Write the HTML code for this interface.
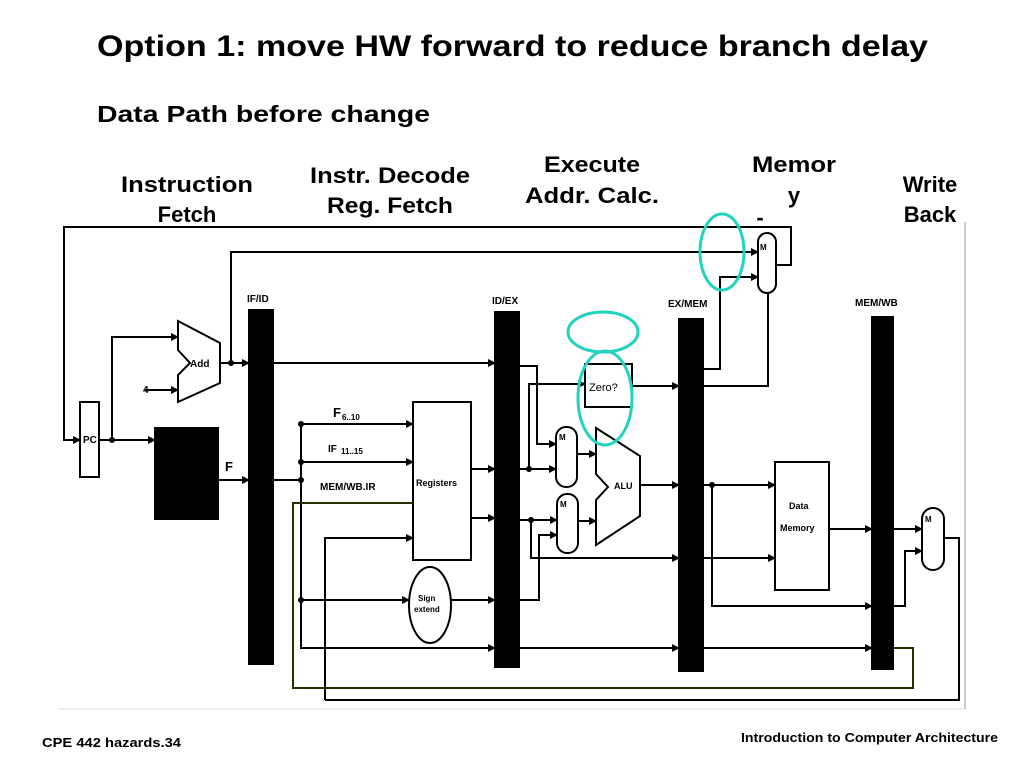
<!DOCTYPE html>
<html><head><meta charset="utf-8"><style>
body{margin:0;width:1024px;height:768px;background:#fff;overflow:hidden;font-family:"Liberation Sans",Arial,sans-serif}
</style></head><body>
<svg width="1024" height="768" xmlns="http://www.w3.org/2000/svg" font-family="Liberation Sans, Arial, sans-serif">
<defs><marker id="a" markerWidth="8" markerHeight="8" refX="7" refY="4" orient="auto" markerUnits="userSpaceOnUse"><path d="M0,0 L8,4 L0,8z" fill="#000"/></marker></defs>
<text x="97" y="56" font-size="30" font-weight="bold" textLength="831" lengthAdjust="spacingAndGlyphs">Option 1: move HW forward to reduce branch delay</text>
<text x="97" y="122" font-size="23" font-weight="bold" textLength="333" lengthAdjust="spacingAndGlyphs">Data Path before change</text>
<g font-size="22" font-weight="bold" text-anchor="middle">
<text x="187" y="192" textLength="132" lengthAdjust="spacingAndGlyphs">Instruction</text><text x="187" y="222">Fetch</text>
<text x="390" y="183" textLength="160" lengthAdjust="spacingAndGlyphs">Instr. Decode</text><text x="390" y="213" textLength="126" lengthAdjust="spacingAndGlyphs">Reg. Fetch</text>
<text x="592" y="172" textLength="96" lengthAdjust="spacingAndGlyphs">Execute</text><text x="592" y="203" textLength="134" lengthAdjust="spacingAndGlyphs">Addr. Calc.</text>
<text x="794" y="172" textLength="84" lengthAdjust="spacingAndGlyphs">Memor</text><text x="794" y="203">y</text><text x="760" y="225">-</text>
<text x="930" y="192">Write</text><text x="930" y="222">Back</text>
</g>
<rect x="58" y="223" width="907" height="486" fill="#fff"/>
<line x1="965" y1="222" x2="965" y2="709" stroke="#ccc" stroke-width="2"/>
<line x1="58" y1="709" x2="965" y2="709" stroke="#ddd" stroke-width="1"/>
<g stroke="#000" stroke-width="2" fill="none">
<rect x="249" y="310" width="24" height="354" fill="#000"/>
<rect x="495" y="312" width="24" height="355" fill="#000"/>
<rect x="679" y="319" width="24" height="352" fill="#000"/>
<rect x="872" y="317" width="21" height="352" fill="#000"/>
<rect x="155" y="428" width="63" height="91" fill="#000"/>
<rect x="80" y="402" width="19" height="75" fill="#fff"/>
<rect x="413" y="402" width="58" height="158" fill="#fff"/>
<rect x="585" y="364" width="47" height="43" fill="#fff"/>
<rect x="775" y="462" width="54" height="128" fill="#fff"/>
<ellipse cx="430" cy="605" rx="21" ry="38" fill="#fff"/>
<path d="M178,321 L220,343 L220,383 L178,402 L178,375 L190,363 L178,350Z" fill="#fff"/>
<path d="M596,428 L640,456 L640,516 L596,545 L596,500 L608,487 L596,474Z" fill="#fff"/>
<rect x="758" y="233" width="18" height="60" rx="9" fill="#fff"/>
<rect x="556" y="427" width="21" height="60" rx="10" fill="#fff"/>
<rect x="557" y="494" width="21" height="59" rx="10" fill="#fff"/>
<rect x="922" y="508" width="22" height="62" rx="11" fill="#fff"/>
<polyline points="776,265 791,265 791,227 64,227 64,440 80,440" marker-end="url(#a)"/>
<polyline points="99,440 155,440" marker-end="url(#a)"/>
<polyline points="112,440 112,337 178,337" marker-end="url(#a)"/>
<polyline points="145,390 178,390" marker-end="url(#a)"/>
<polyline points="220,363 249,363" marker-end="url(#a)"/>
<polyline points="231,363 231,252 758,252" marker-end="url(#a)"/>
<polyline points="218,480 249,480" marker-end="url(#a)"/>
<polyline points="273,363 495,363" marker-end="url(#a)"/>
<polyline points="273,480 301,480"/>
<polyline points="301,424 413,424" marker-end="url(#a)"/>
<polyline points="301,462 413,462" marker-end="url(#a)"/>
<polyline points="301,424 301,648 495,648" marker-end="url(#a)"/>
<polyline points="301,600 409,600" marker-end="url(#a)"/>
<polyline points="451,600 495,600" marker-end="url(#a)"/>
<polyline points="325,700 325,538 413,538" marker-end="url(#a)"/>
<polyline points="325,700 959,700 959,538 944,538"/>
<polyline points="471,469 495,469" marker-end="url(#a)"/>
<polyline points="471,518 495,518" marker-end="url(#a)"/>
<polyline points="519,366 537,366 537,444 556,444" marker-end="url(#a)"/>
<polyline points="519,469 556,469" marker-end="url(#a)"/>
<polyline points="529,469 529,384 585,384" marker-end="url(#a)"/>
<polyline points="519,520 557,520" marker-end="url(#a)"/>
<polyline points="519,600 539,600 539,535 557,535" marker-end="url(#a)"/>
<polyline points="531,520 531,558 679,558" marker-end="url(#a)"/>
<polyline points="577,454 596,454" marker-end="url(#a)"/>
<polyline points="578,521 596,521" marker-end="url(#a)"/>
<polyline points="632,386 679,386" marker-end="url(#a)"/>
<polyline points="640,485 679,485" marker-end="url(#a)"/>
<polyline points="519,648 679,648" marker-end="url(#a)"/>
<polyline points="703,648 872,648" marker-end="url(#a)"/>
<polyline points="703,369 720,369 720,277 758,277" marker-end="url(#a)"/>
<polyline points="703,386 768,386 768,293"/>
<polyline points="703,485 775,485" marker-end="url(#a)"/>
<polyline points="703,558 775,558" marker-end="url(#a)"/>
<polyline points="712,485 712,606 872,606" marker-end="url(#a)"/>
<polyline points="829,529 872,529" marker-end="url(#a)"/>
<polyline points="893,529 922,529" marker-end="url(#a)"/>
<polyline points="893,606 905,606 905,551 922,551" marker-end="url(#a)"/>
</g>
<polyline points="893,648 913,648 913,688 293,688 293,503 413,503" fill="none" stroke="#223300" stroke-width="2"/>
<g fill="#000">
<circle cx="112" cy="440" r="3"/><circle cx="231" cy="363" r="3"/><circle cx="301" cy="424" r="3"/><circle cx="301" cy="462" r="3"/><circle cx="301" cy="480" r="3"/><circle cx="301" cy="600" r="3"/><circle cx="529" cy="469" r="3"/><circle cx="531" cy="520" r="3"/><circle cx="712" cy="485" r="3"/>
</g>
<g font-size="10" font-weight="bold">
<text x="247" y="302">IF/ID</text><text x="492" y="304">ID/EX</text><text x="668" y="307">EX/MEM</text><text x="855" y="306">MEM/WB</text>
<text x="83" y="443">PC</text><text x="190" y="367">Add</text><text x="143" y="393">4</text>
<text x="225" y="471" font-size="13">F</text>
<text x="333" y="417" font-size="13">F</text><text x="342" y="420" font-size="8">6..10</text>
<text x="328" y="452">IF</text><text x="341" y="454" font-size="8">11..15</text>
<text x="320" y="490">MEM/WB.IR</text>
<text x="416" y="486" font-size="9">Registers</text>
<text x="418" y="601" font-size="8">Sign</text><text x="414" y="612" font-size="8">extend</text>
<text x="589" y="391" font-size="11" font-weight="normal">Zero?</text>
<text x="614" y="489" font-size="9">ALU</text>
<text x="789" y="509" font-size="9">Data</text><text x="780" y="531" font-size="9">Memory</text>
<text x="760" y="250" font-size="8">M</text><text x="559" y="440" font-size="8">M</text><text x="560" y="507" font-size="8">M</text><text x="925" y="522" font-size="8">M</text>
</g>
<g fill="none" stroke="#22d3c0" stroke-width="3">
<ellipse cx="722" cy="252" rx="22" ry="38"/>
<ellipse cx="603" cy="332" rx="35" ry="20"/>
<ellipse cx="605" cy="398" rx="27" ry="47"/>
</g>
<text x="42" y="747" font-size="13" font-weight="bold" textLength="139" lengthAdjust="spacingAndGlyphs">CPE 442  hazards.34</text>
<text x="741" y="742" font-size="13" font-weight="bold" textLength="257" lengthAdjust="spacingAndGlyphs">Introduction to Computer Architecture</text>
</svg>
</body></html>
